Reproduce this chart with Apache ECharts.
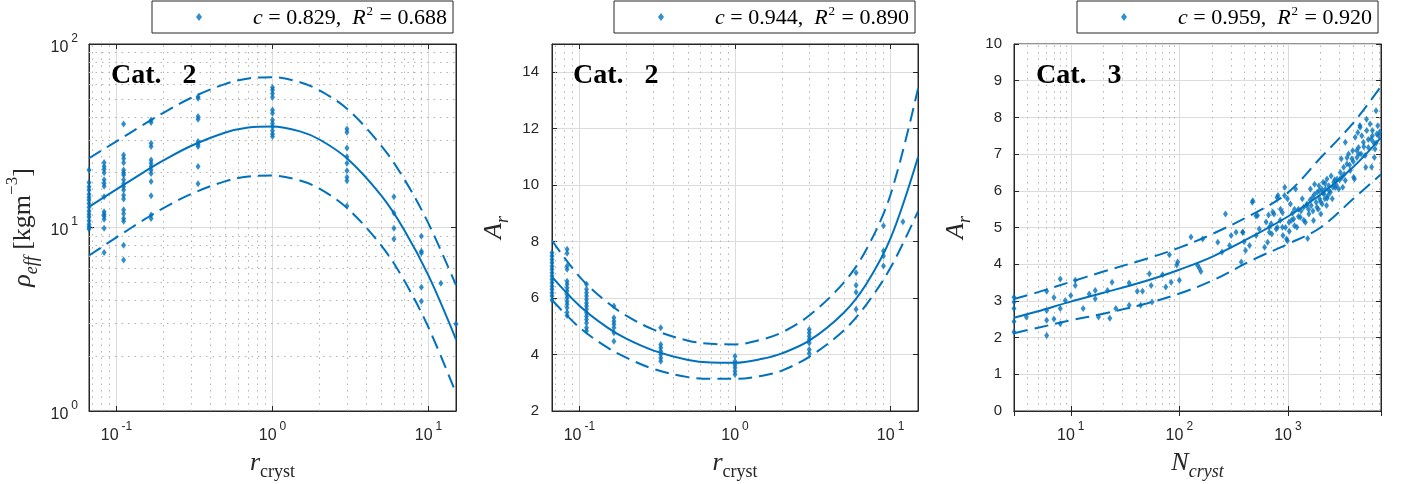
<!DOCTYPE html>
<html><head><meta charset="utf-8">
<script src="https://cdn.jsdelivr.net/npm/echarts@6/dist/echarts.min.js"></script>
<style>html,body{margin:0;padding:0;background:#fff}#c{width:1402px;height:484px}</style>
</head><body><div id="c"></div><script>
// ---------- Panel 1: rho_eff vs r_cryst (log-log) ----------
const p1Cols = [1/15, 1/12, 1/9, 1/6, 1/3, 1, 3, 6, 9, 12, 15];
const p1Vals = [
  [20.6,17.6,16.7,16.0,15.2,14.6,14.1,13.5,12.9,12.3,11.8,11.4,10.9,10.4,10.1,9.8],
  [22.6,21.6,20.8,19.9,18.2,17.4,16.8,14.7,12.2,11.8,11.5,11.1,9.9,7.3],
  [36.6,24.8,23.8,22.5,20.6,19.9,19.3,18.2,17.3,16.7,16.0,15.0,14.3,12.5,11.9,11.2,10.8,8.0,6.65],
  [38.5,37.3,28.8,27.6,23.3,22.4,21.5,20.6,19.7,17.8,14.9,11.7,11.2],
  [51.6,50.6,40.2,38.9,29.4,28.4,27.6,21.5,17.3],
  [58.0,56.1,53.8,51.2,43.7,41.9,38.5,36.9,35.4,33.7,32.3,31.3],
  [34.4,33.0,27.1,24.3,22.4,20.4,18.8,18.0,13.1],
  [14.7,12.0,9.9,8.65],
  [8.95,7.42,7.26,4.72,3.96],
  [4.97],
  [2.98]
];
const rCurveX = [1/15, 0.1, 0.15, 0.2, 0.3, 0.5, 0.7, 1, 1.5, 2, 3, 5, 7, 10, 15];
const p1Fit   = [12.96, 16.13, 20.05, 23.19, 27.8, 32.93, 35.08, 35.56, 33.42, 30.17, 23.82, 14.85, 9.67, 5.47, 2.46];
const p1Upper = [23.85, 29.49, 36.5, 42.2, 50.8, 60.6, 64.9, 65.9, 61.9, 55.9, 44.4, 27.8, 18.3, 10.5, 4.85];
const p1Lower = [7.04, 8.83, 11.02, 12.75, 15.21, 17.89, 18.97, 19.19, 18.03, 16.28, 12.79, 7.94, 5.12, 2.85, 1.25];

// ---------- Panel 2: A_r vs r_cryst ----------
const p2Cols = [1/15, 1/12, 1/9, 1/6, 1/3, 1, 3, 6, 9, 12];
const p2Vals = [
  [7.61,7.49,7.37,7.25,7.13,7.02,6.90,6.78,6.66,6.54,6.42,6.31,6.19,6.07,5.93],
  [7.73,7.59,7.14,7.02,6.60,6.49,6.37,6.25,6.13,6.01,5.89,5.78,5.66,5.50,5.38],
  [6.49,6.31,6.19,6.07,5.95,5.83,5.72,5.60,5.48,5.36,5.24,5.12,4.95,4.83],
  [5.72,5.30,5.18,5.07,4.95,4.77,4.47],
  [4.95,4.36,4.24,4.12,4.00,3.88,3.76],
  [3.94,3.76,3.64,3.53,3.41,3.29],
  [4.89,4.77,4.65,4.53,4.41,4.18,4.04],
  [6.90,6.45,6.21,5.60],
  [8.56,7.67,7.49,7.14],
  [8.70]
];
const p2Fit   = [6.75, 5.73, 4.97, 4.56, 4.14, 3.81, 3.72, 3.71, 3.85, 4.04, 4.49, 5.48, 6.51, 8.12, 10.99];
const p2Upper = [8.04, 6.76, 5.86, 5.38, 4.88, 4.49, 4.38, 4.36, 4.54, 4.78, 5.38, 6.55, 7.73, 9.67, 13.42];
const p2Lower = [5.93, 4.96, 4.26, 3.89, 3.49, 3.20, 3.14, 3.14, 3.25, 3.43, 3.92, 4.85, 5.78, 7.08, 9.07];

// ---------- Panel 3: A_r vs N_cryst ----------
const p3N = [3,3,3,3,3,3.9,6,6,6,6,7,7,8,8,8,8.9,10,11,11,13,14.8,16.8,16.8,18,21.8,22.9,24,26,34.5,34.5,41,45.8,44,53,55,56,70,75,84,94.5,96.5,100,81,128,147,153,158,164,226,247,266,290,300,372,385,407,443,475,510,525,545,610,630,675,725,780,810,900,935,970,
  333,383,395,470,508,663,672,745,710,794,855,890,890,930,990,990,1024,1055,1100,1130,1150,1178,1210,1250,1300,1356,1395,1450,1500,1520,1560,1610,1640,1680,1720,1760,1820,1860,1900,1930,1960,2010,2050,2065,2110,2150,2190,2215,2270,2290,2340,2376,2460,2500,2560,2640,2700,2734,2840,2940,3040,3100,3146,3200,3260,3380,3380,3500,3620,3750,3880,3950,4030,4100,4165,4320,4400,4470,4600,4630,4720,4790,4960,5140,5210,5300,5320,5510,5710,5830,5900,6000,6130,6260,6345,6480,6580,6720,6830,
  1250,1320,1400,1480,1550,1600,1700,1750,1850,1950,2000,2100,2200,2300,2400,2600,2800,3000,3300,3500,3700,4000,4300,4500,5000,5500,6000,6500,7000,1150,1080,1030,950,850,800,700,650];
const p3A = [3.10,2.97,2.79,2.44,2.15,2.56,3.26,2.74,2.47,2.06,3.09,2.51,3.60,2.79,2.38,3.01,3.15,3.42,3.56,2.79,3.19,3.06,3.28,2.56,3.28,2.53,3.51,2.79,3.49,2.88,3.26,3.26,2.88,3.74,3.42,2.97,3.71,3.38,3.51,3.98,4.06,3.56,4.26,4.74,3.97,3.89,3.80,4.69,4.60,4.33,5.37,4.51,4.78,4.06,4.87,4.37,4.51,5.73,4.78,5.33,4.96,4.46,5.15,4.87,5.42,4.96,5.87,4.78,6.10,4.69,
  4.87,4.87,4.61,5.69,5.31,5.34,5.01,5.37,4.82,5.82,5.50,5.41,5.01,5.87,5.78,4.64,5.14,5.64,5.39,5.23,5.05,6.05,5.01,5.50,5.28,5.78,5.55,5.14,5.64,4.70,5.37,6.05,5.60,5.82,5.19,6.18,5.69,5.96,5.50,6.14,5.78,5.37,6.05,5.64,6.23,5.91,5.78,6.05,5.60,6.32,5.87,6.14,5.96,6.40,5.78,6.23,6.30,6.09,6.32,6.05,6.50,6.87,6.37,6.10,6.64,7.32,6.28,6.73,7.00,6.55,6.87,7.09,6.37,6.32,7.46,6.91,7.59,7.18,7.78,7.73,7.00,7.50,7.32,6.96,6.64,7.95,7.64,7.18,7.82,7.41,6.65,7.64,7.32,6.91,7.14,8.18,7.55,7.77,7.50,
  5.30,5.45,5.20,5.60,5.50,5.75,5.45,5.90,5.55,6.00,5.70,5.95,6.20,5.80,6.00,6.10,6.15,6.30,6.45,6.90,6.70,6.80,7.10,7.00,7.20,7.40,7.50,7.30,7.60,5.50,5.20,4.90,5.00,5.20,5.00,5.10,4.60];
const p3CurveX = [3, 5, 10, 20, 50, 100, 200, 500, 1000, 2000, 4000, 7200];
const p3Fit   = [2.54, 2.72, 2.98, 3.22, 3.55, 3.85, 4.20, 4.80, 5.30, 5.90, 6.65, 7.45];
const p3Upper = [3.05, 3.24, 3.52, 3.80, 4.15, 4.45, 4.82, 5.40, 5.95, 6.90, 7.85, 8.85];
const p3Lower = [2.12, 2.27, 2.47, 2.65, 2.93, 3.20, 3.55, 4.15, 4.55, 5.00, 5.78, 6.45];

// ---------- legend statistics, panel tags, minor grid positions ----------
const statC  = ['0.829', '0.944', '0.959'];
const statR2 = ['0.688', '0.890', '0.920'];
const catLabels = ['Cat.   2', 'Cat.   2', 'Cat.   3'];
const minorR   = [0.07,0.08,0.09,0.2,0.3,0.4,0.5,0.6,0.7,0.8,0.9,2,3,4,5,6,7,8,9];
const minorRho = [2,3,4,5,6,7,8,9,20,30,40,50,60,70,80,90];
const minorN   = [4,5,6,7,8,9,20,30,40,50,60,70,80,90,200,300,400,500,600,700,800,900,2000,3000,4000,5000,6000,7000];

// ---------- helpers ----------
const blue = '#0072BD', ink = '#262626';
const colPairs = (xs, ys) => { const o = []; xs.forEach((x, i) => ys[i].forEach(v => o.push([x, v]))); return o; };
const zip = (xs, ys) => xs.map((x, i) => [x, ys[i]]);
const serif = 'Liberation Serif', sans = 'Liberation Sans';
const grids = [
  {left: 89, top: 44, width: 367, height: 367},
  {left: 552, top: 44, width: 366, height: 367},
  {left: 1014, top: 44, width: 367, height: 367}
];
const logRich = {
  b: {fontSize: 16, fontFamily: sans, color: ink, verticalAlign: 'bottom', padding: [7, 0, 0, 0]},
  e: {fontSize: 12, fontFamily: sans, color: ink, verticalAlign: 'top', padding: [0, 0, 0, 3]}
};
const logFmt = v => '{b|10}{e|' + Math.round(Math.log10(v)) + '}';
const nameRich = {
  it: {fontSize: 26, fontFamily: serif, fontStyle: 'italic', color: ink, verticalAlign: 'bottom', padding: [6, 0, 5, 0]},
  n:  {fontSize: 26, fontFamily: serif, color: ink, verticalAlign: 'bottom', padding: [6, 0, 5, 0]},
  sub: {fontSize: 18, fontFamily: serif, color: ink, verticalAlign: 'bottom'},
  subi: {fontSize: 18, fontFamily: serif, fontStyle: 'italic', color: ink, verticalAlign: 'bottom'},
  sup: {fontSize: 17, fontFamily: serif, color: ink, verticalAlign: 'top'}
};
const gridLine = {show: true, lineStyle: {color: '#dcdcdc', width: 1}};
function xLog(gi, min, max, name) {
  return {type: 'log', logBase: 10, gridIndex: gi, min, max, name, nameLocation: 'middle', nameGap: 33,
    nameMoveOverlap: false, nameTextStyle: {rich: nameRich},
    axisLine: {show: true, lineStyle: {color: ink}}, axisTick: {show: true, inside: true, length: 5, lineStyle: {color: ink}},
    axisLabel: {formatter: logFmt, rich: logRich, margin: 10, showMinLabel: false, showMaxLabel: false},
    splitLine: gridLine, minorTick: {show: false}, minorSplitLine: {show: false}};
}
function mirrorX(gi, base) {
  return Object.assign({}, base, {gridIndex: gi, position: 'top', name: '', axisLabel: {show: false}, splitLine: {show: false}});
}
const xAxes = [
  xLog(0, 1/15, 15, '{it|r}{sub|cryst}'),
  xLog(1, 1/15, 15, '{it|r}{sub|cryst}'),
  xLog(2, 3, 7200, '{it|N}{subi|cryst}')
];
const yBase = {nameLocation: 'middle', nameMoveOverlap: false, nameTextStyle: {rich: nameRich},
  axisLine: {show: true, lineStyle: {color: ink}}, axisTick: {show: true, inside: true, length: 5, lineStyle: {color: ink}},
  splitLine: gridLine};
const yAxes = [
  Object.assign({}, yBase, {type: 'log', logBase: 10, gridIndex: 0, min: 1, max: 100, nameGap: 48,
    name: '{it|ρ}{subi|eff}{n| [kgm}{sup|−3}{n|]}',
    axisLabel: {formatter: logFmt, rich: logRich, margin: 11}}),
  Object.assign({}, yBase, {type: 'value', gridIndex: 1, min: 2, max: 15, interval: 2, nameGap: 40,
    name: '{it|A}{subi|r}',
    axisLabel: {fontSize: 15, fontFamily: sans, color: ink, margin: 13, showMaxLabel: false}}),
  Object.assign({}, yBase, {type: 'value', gridIndex: 2, min: 0, max: 10, interval: 1, nameGap: 40,
    name: '{it|A}{subi|r}',
    axisLabel: {fontSize: 15, fontFamily: sans, color: ink, margin: 12}})
];
const allX = xAxes.concat(xAxes.map((a, i) => mirrorX(i, a)));
const allY = yAxes.concat(yAxes.map((a, i) => Object.assign({}, a, {position: 'right', name: '', axisLabel: {show: false}, splitLine: {show: false}})));

const minorStyle = {color: '#b3b3b3', width: 1, type: [1.5, 5]};
function panelSeries(i, pts, cx, fit, up, lo, minorX, minorY) {
  const lineBase = {type: 'line', xAxisIndex: i, yAxisIndex: i, showSymbol: false, symbol: 'none', smooth: 0.35, silent: true};
  const ml = minorX.map(v => ({xAxis: v})).concat((minorY || []).map(v => ({yAxis: v})));
  return [
    Object.assign({}, lineBase, {name: 'fit' + i, data: zip(cx, fit), lineStyle: {color: blue, width: 2}, z: 3,
      markLine: {silent: true, symbol: 'none', label: {show: false}, lineStyle: minorStyle, animation: false, z: 1, data: ml}}),
    Object.assign({}, lineBase, {name: 'up' + i, data: zip(cx, up), lineStyle: {color: blue, width: 2, type: [14, 7]}, z: 3}),
    Object.assign({}, lineBase, {name: 'lo' + i, data: zip(cx, lo), lineStyle: {color: blue, width: 2, type: [14, 7]}, z: 3}),
    {type: 'scatter', name: 'pts' + i, xAxisIndex: i, yAxisIndex: i, data: pts, symbol: 'diamond', symbolSize: [5, 7],
      itemStyle: {color: blue}, z: 4, silent: true}
  ];
}
const series = [].concat(
  panelSeries(0, colPairs(p1Cols, p1Vals), rCurveX, p1Fit, p1Upper, p1Lower, minorR, minorRho),
  panelSeries(1, colPairs(p2Cols, p2Vals), rCurveX, p2Fit, p2Upper, p2Lower, minorR, []),
  panelSeries(2, zip(p3N, p3A), p3CurveX, p3Fit, p3Upper, p3Lower, minorN, [])
);
const legRich = {
  g: {width: 46, fontSize: 10},
  i: {fontSize: 22, fontFamily: serif, fontStyle: 'italic', color: '#000', verticalAlign: 'bottom', padding: [2, 0, 0, 0]},
  n: {fontSize: 22, fontFamily: serif, color: '#000', verticalAlign: 'bottom', padding: [2, 0, 0, 0]},
  s: {fontSize: 13, fontFamily: serif, color: '#000', verticalAlign: 'top', padding: [0, 1, 0, 1]}
};
const legLeft = [152, 614, 1077];
const legends = [0, 1, 2].map(i => ({
  data: ['pts' + i], left: legLeft[i], top: 1, padding: [4, 6, 4, 44], itemWidth: 6, itemHeight: 8, itemGap: 0,
  icon: 'diamond', borderColor: ink, borderWidth: 1, backgroundColor: '#fff', selectedMode: false,
  formatter: () => '{g| }{i|c}{n| = ' + statC[i] + ',  }{i|R}{s|2}{n| = ' + statR2[i] + '}',
  textStyle: {rich: legRich}
}));
const catLeft = [111, 573, 1036];
const titles = [0, 1, 2].map(i => ({text: catLabels[i], left: catLeft[i], top: 62, padding: 0,
  textStyle: {fontFamily: serif, fontWeight: 'bold', fontSize: 28, color: '#000'}}));

const chart = echarts.init(document.getElementById('c'), null, {renderer: 'canvas'});
chart.setOption({
  animation: false, backgroundColor: '#fff',
  title: titles,
  legend: legends,
  grid: grids.map(g => Object.assign({show: true, borderColor: ink, borderWidth: 1, containLabel: false, outerBoundsMode: 'none'}, g)),
  xAxis: allX, yAxis: allY,
  series
});
</script></body></html>
